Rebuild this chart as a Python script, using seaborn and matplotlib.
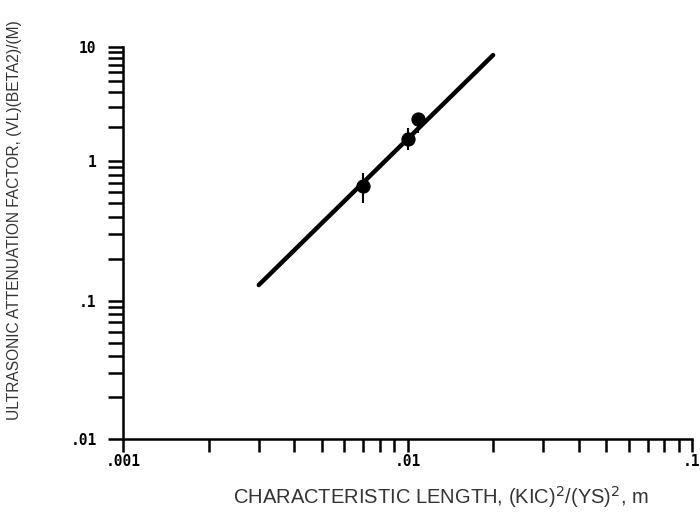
import matplotlib
matplotlib.use("Agg")
import matplotlib.pyplot as plt
import seaborn as sns
import pandas as pd
import numpy as np
from matplotlib.ticker import FixedLocator, NullFormatter

# Data
fit_x = [0.003, 0.020]
fit_y = [0.13, 8.5]
pt_x = [0.0070, 0.0100, 0.0109]
pt_y = [0.66, 1.55, 2.35]
pt_lo = [0.50, 1.25, 1.75]
pt_hi = [0.82, 1.95, 2.60]
x_ticks = [0.001, 0.01, 0.1]
x_labels = [".001", ".01", ".1"]
y_ticks = [0.01, 0.1, 1, 10]
y_labels = [".01", ".1", "1", "10"]

# printed axis of the original is not quite uniform per decade
y_knots_log = [-2.0, -1.0, 0.0, 1.0]
y_knots_pos = [0.0, 138.0, 278.0, 392.0]

def fwd(v):
    v = np.asarray(v, dtype=float)
    with np.errstate(divide="ignore", invalid="ignore"):
        lv = np.log10(np.where(v > 0, v, 1e-300))
    return np.interp(lv, y_knots_log, y_knots_pos, left=-1e3, right=1e3)

def inv(p):
    p = np.asarray(p, dtype=float)
    return 10 ** np.interp(p, y_knots_pos, y_knots_log)

sns.set_theme(style="white")
plt.rcParams['font.family'] = ['DejaVu Sans']

fig = plt.figure(figsize=(7.0, 5.14), dpi=100)
ax = fig.add_axes([123/700, 1-439/514, (692-123)/700, (439-47)/514])

fit_df = pd.DataFrame({"x": fit_x, "y": fit_y})
pts_df = pd.DataFrame({"x": pt_x, "y": pt_y})

ax.set_xscale("log")
ax.set_yscale("function", functions=(fwd, inv))

sns.lineplot(data=fit_df, x="x", y="y", ax=ax, color="black", linewidth=3.2)
ax.errorbar(pt_x, pt_y,
            yerr=[np.array(pt_y) - np.array(pt_lo), np.array(pt_hi) - np.array(pt_y)],
            fmt="none", ecolor="black", elinewidth=1.5, capsize=0)
sns.scatterplot(data=pts_df, x="x", y="y", ax=ax, color="black", s=90,
                marker="o", edgecolor="black", zorder=5)

ax.set_xlim(0.001, 0.1)
ax.set_ylim(0.01, 10)

for s in ["top", "right"]:
    ax.spines[s].set_visible(False)
for s in ["left", "bottom"]:
    ax.spines[s].set_color("black")
    ax.spines[s].set_linewidth(1.8)

minor_subs = [2, 3, 4, 5, 6, 7, 8, 9]
x_minor = [m * d for d in x_ticks[:-1] for m in minor_subs]
y_minor = [m * d for d in y_ticks[:-1] for m in minor_subs]

ax.xaxis.set_major_locator(FixedLocator(x_ticks))
ax.yaxis.set_major_locator(FixedLocator(y_ticks))
ax.xaxis.set_minor_locator(FixedLocator(x_minor))
ax.yaxis.set_minor_locator(FixedLocator(y_minor))
ax.xaxis.set_minor_formatter(NullFormatter())
ax.yaxis.set_minor_formatter(NullFormatter())
ax.set_xticklabels(x_labels)
ax.set_yticklabels(y_labels)

ax.tick_params(axis="both", which="both", direction="out", color="black",
               width=1.8, bottom=True, left=True)
ax.tick_params(axis="x", which="both", length=9, pad=2)
ax.tick_params(axis="y", which="both", length=11, pad=8)
for lab in ax.get_xticklabels() + ax.get_yticklabels():
    lab.set_fontfamily("DejaVu Sans Mono")
    lab.set_fontweight("bold")
    lab.set_fontsize(10.5)
    lab.set_color("black")

ax.set_xlabel("CHARACTERISTIC LENGTH, (KIC)$^2$/(YS)$^2$, m",
              fontsize=14.5, color="#333333",
              fontfamily=["Liberation Sans", "DejaVu Sans"])
ax.xaxis.set_label_coords((441 - 123) / (692 - 123), -(497 - 439) / (439 - 47))
ax.xaxis.label.set_va("center")
ax.set_ylabel("ULTRASONIC ATTENUATION FACTOR, (VL)(BETA2)/(M)",
              fontsize=11.2, color="#333333",
              fontfamily=["Liberation Sans", "DejaVu Sans"])
ax.yaxis.set_label_coords(-(123 - 15) / (692 - 123), (439 - 220) / (439 - 47))
ax.yaxis.label.set_va("center")

fig.savefig("out.png", dpi=100, facecolor="white")
